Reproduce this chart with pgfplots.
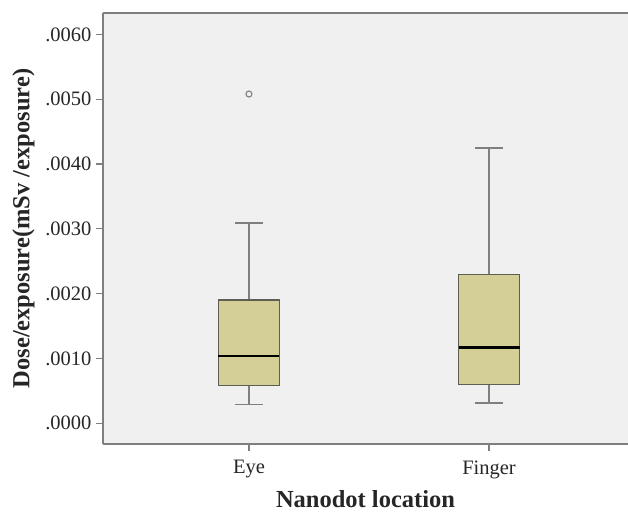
\documentclass[border=0pt]{standalone}
\usepackage{pgfplots}
\pgfplotsset{compat=1.18}
\usepgfplotslibrary{statistics}
\usepackage{fontspec}
\setmainfont{Liberation Serif}
\definecolor{bgc}{HTML}{F0F0F0}
\definecolor{boxc}{HTML}{D4CE97}
\definecolor{framec}{HTML}{7F7F7F}
\definecolor{boxedge}{HTML}{5E5E55}
\begin{document}
% y values in units of 0.001 mSv/exposure
\begin{tikzpicture}
\begin{axis}[
  at={(103pt,68pt)}, anchor=south west,
  scale only axis, width=525pt, height=431pt,
  xmin=0.392, xmax=2.579,
  ymin=-0.32, ymax=6.33,
  axis x line=bottom, axis y line=left,
  axis line style={-, framec, line width=1.6pt},
  axis background/.style={fill=bgc},
  xtick={1,2}, xticklabels={Eye,Finger},
  ytick={0,1,2,3,4,5,6},
  yticklabels={.0000,.0010,.0020,.0030,.0040,.0050,.0060},
  tick align=outside,
  major tick length=7pt,
  tick style={framec, line width=1.2pt},
  ticklabel style={font=\fontsize{20.5}{22}\selectfont, text=black!85},
  xticklabel style={yshift=-6pt},
  yticklabel style={xshift=-1pt},
  xlabel={\textbf{Nanodot location}},
  ylabel={\textbf{Dose/exposure(mSv /exposure)}},
  label style={font=\fontsize{24.5}{26}\selectfont, text=black!85},
  xlabel style={yshift=-5pt},
  ylabel style={yshift=4pt},
  clip=false,
  boxplot/draw direction=y,
  boxplot/every box/.style={draw=boxedge, fill=boxc, line width=1.3pt},
  boxplot/every whisker/.style={draw=framec, line width=1.8pt},
  boxplot/every median/.style={draw=black, line width=2.2pt},
]
\addplot+[mark=o, mark size=3pt, mark options={draw=framec, line width=1.1pt, fill=none},
  boxplot prepared={lower whisker=0.29, lower quartile=0.58, median=1.034,
    upper quartile=1.90, upper whisker=3.09, draw position=1,
    box extend=0.254, whisker extend=0.12}]
  table[row sep=\\, y index=0] {y\\ 5.08\\};
\addplot+[mark=none,
  boxplot prepared={lower whisker=0.31, lower quartile=0.60, median=1.168,
    upper quartile=2.30, upper whisker=4.25, draw position=2,
    box extend=0.254, whisker extend=0.12}]
  coordinates {};
\draw[framec, line width=1.6pt] (rel axis cs:0,1) -- (rel axis cs:1,1);
\end{axis}
\pgfresetboundingbox
\useasboundingbox (0pt,0pt) rectangle (628pt,512pt);
\end{tikzpicture}
\end{document}
